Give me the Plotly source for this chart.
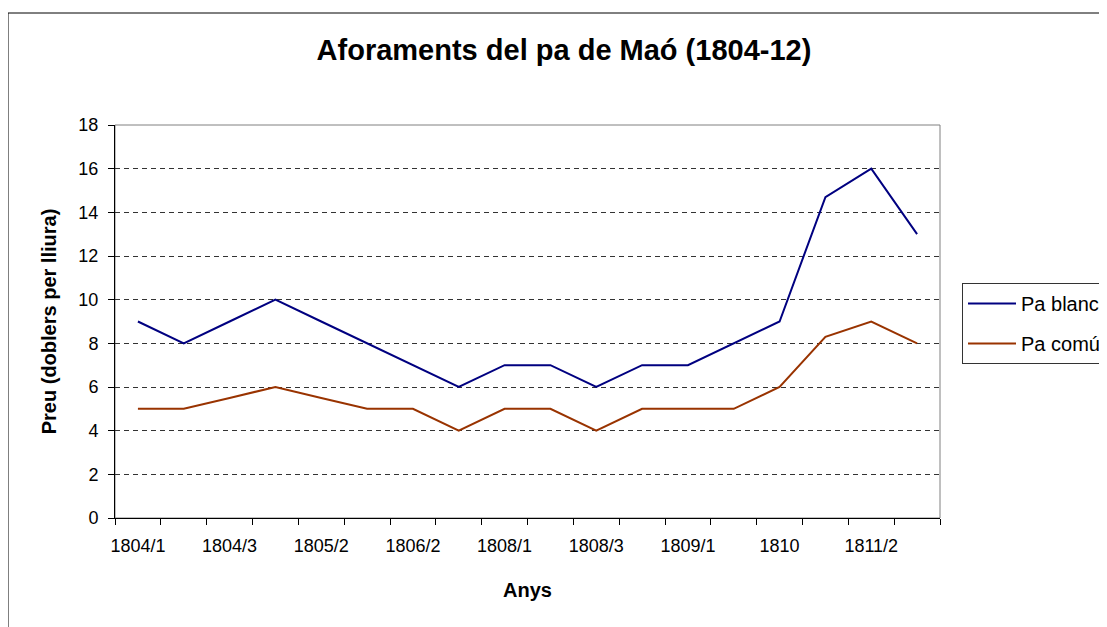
import plotly.graph_objects as go

# Periods (every category of the x axis; only every other one is labelled)
periods = ["1804/1", "1804/2", "1804/3", "1805/1", "1805/2", "1806/1",
           "1806/2", "1807", "1808/1", "1808/2", "1808/3", "1808/4",
           "1809/1", "1809/2", "1810", "1811/1", "1811/2", "1812"]
tick_labels = ["1804/1", "1804/3", "1805/2", "1806/2", "1808/1",
               "1808/3", "1809/1", "1810", "1811/2"]

pa_blanc = [9, 8, 9, 10, 9, 8, 7, 6, 7, 7, 6, 7, 7, 8, 9, 14.7, 16, 13]
pa_comu = [5, 5, 5.5, 6, 5.5, 5, 5, 4, 5, 5, 4, 5, 5, 5, 6, 8.3, 9, 8]

FONT = "Liberation Sans, Arial, sans-serif"

# page body adds an 8px offset; compensate
OFF = 8
L, R, T, B = 115 - OFF, 940 - OFF, 125 - OFF, 518 - OFF

fig = go.Figure()
fig.add_trace(go.Scatter(x=periods, y=pa_blanc, mode="lines", name="Pa blanc",
                         legendgroup="a",
                         line=dict(color="#000080", width=2)))
fig.add_trace(go.Scatter(x=periods, y=pa_comu, mode="lines", name="Pa comú",
                         legendgroup="b",
                         line=dict(color="#993300", width=2)))

ticktext = [p if p in tick_labels else "" for p in periods]

fig.update_layout(
    width=1107, height=627,
    margin=dict(l=L, r=1107 - R, t=T, b=627 - B, autoexpand=False),
    paper_bgcolor="white", plot_bgcolor="white",
    font=dict(family=FONT, color="black", size=18),
    title=dict(text="<b>Aforaments del pa de Maó (1804-12)</b>",
               x=(564 - OFF) / 1107, xanchor="center",
               y=1 - (50 - OFF) / 627, yanchor="middle",
               font=dict(size=29, family=FONT, color="black")),
    xaxis=dict(type="category", categoryorder="array", categoryarray=periods,
               tickmode="array", tickvals=periods, ticktext=ticktext,
               tickson="boundaries", ticks="outside", ticklen=6,
               tickangle=0,
               tickcolor="black", showgrid=False, showline=True,
               linecolor="black", linewidth=1, range=[-0.5, len(periods) - 0.5],
               ticklabelstandoff=11, tickfont=dict(size=18),
               title=dict(text="<b>Anys</b>", standoff=28,
                          font=dict(size=20))),
    yaxis=dict(range=[0, 18], dtick=2, ticks="outside", ticklen=6,
               tickcolor="black", showline=True, linecolor="black",
               linewidth=1, showgrid=True, gridcolor="#333333",
               griddash="5px,4px", gridwidth=1, zeroline=False,
               ticklabelstandoff=6, tickfont=dict(size=18),
               title=dict(text="<b>Preu (doblers per lliura)</b>", standoff=16,
                          font=dict(size=20))),
    legend=dict(x=(962 - 115) / 825, y=(518 - 283) / 393, xanchor="left",
                yanchor="top", bgcolor="white", bordercolor="#333333",
                borderwidth=1, font=dict(size=20), tracegroupgap=11,
                itemwidth=48),
    showlegend=True,
    shapes=[
        dict(type="rect", xref="paper", yref="paper", x0=0, x1=1, y0=0, y1=1,
             line=dict(color="#808080", width=1), layer="below"),
        dict(type="rect", xref="paper", yref="paper",
             x0=(8 - 115) / 825, x1=1.4, y0=(518 - 13) / 393, y1=-0.5,
             line=dict(color="black", width=1), layer="below"),
    ],
)

fig.write_html("out.html")
